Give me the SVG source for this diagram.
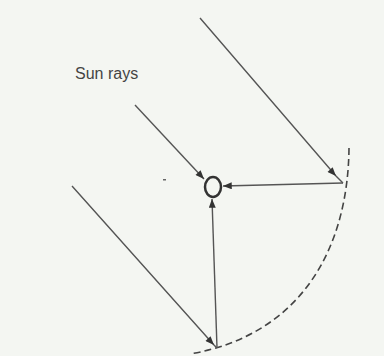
<svg xmlns="http://www.w3.org/2000/svg" width="384" height="356" viewBox="0 0 384 356">
<style>
.ray{fill:none;stroke:#555;stroke-width:1.4}
.arc{fill:none;stroke:#444;stroke-width:1.6;stroke-dasharray:7 4}
.lbl{font-family:"Liberation Sans",Arial,sans-serif;font-size:16px;fill:#444}
</style>
<defs>
<marker id="ah" viewBox="0 0 10 8" refX="10" refY="4" markerWidth="10" markerHeight="7" markerUnits="userSpaceOnUse" orient="auto">
<path d="M0,0 L10,4 L0,8 z" fill="#333"/>
</marker>
</defs>
<rect width="384" height="356" fill="#f4f6f2"/>
<g id="label"><text class="lbl" x="75" y="79">Sun rays</text></g>
<g id="receiver"><ellipse cx="213" cy="187" rx="8" ry="10" fill="none" stroke="#333" stroke-width="2.5"/></g>
<g id="mirror"><path class="arc" d="M349,148 C348,250 300,335 190,354"/></g>
<g id="connectors">
<path class="ray" d="M200,18 L336,176 L343,183" marker-mid="url(#ah)"/>
<path class="ray" d="M135,105 L204,179" marker-end="url(#ah)"/>
<path class="ray" d="M72,186 L214,345 L217,348" marker-mid="url(#ah)"/>
<path class="ray" d="M343,183 L223,186" marker-end="url(#ah)"/>
<path class="ray" d="M217,348 L212,199" marker-end="url(#ah)"/>
</g>
<rect x="163" y="179" width="3" height="1.5" fill="#666"/>
</svg>
